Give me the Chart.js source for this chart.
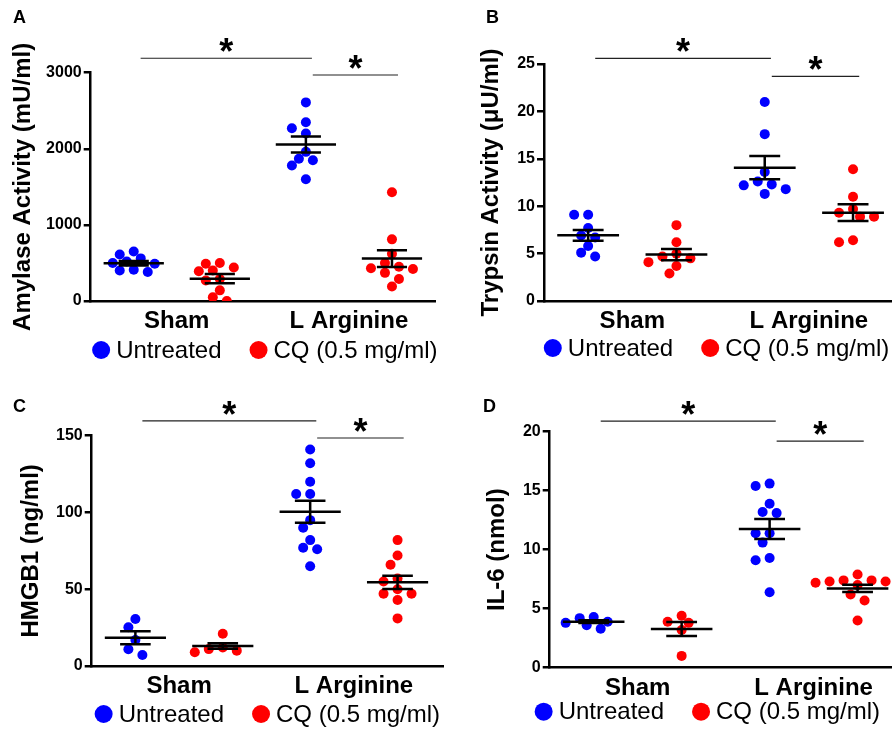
<!DOCTYPE html>
<html>
<head>
<meta charset="utf-8">
<title>Amylase, trypsin, HMGB1 and IL-6</title>
<script src="https://cdn.jsdelivr.net/npm/chart.js@4.4.1/dist/chart.umd.min.js"></script>
<style>
  body { margin: 0; background: #fff; }
  #figure { position: relative; width: 896px; height: 729px; }
  #figure canvas { position: absolute; }
</style>
</head>
<body>
<div id="figure">
  <canvas id="chartA" width="448" height="365" style="left:0;top:0"></canvas>
  <canvas id="chartB" width="448" height="365" style="left:448px;top:0"></canvas>
  <canvas id="chartC" width="448" height="364" style="left:0;top:365px"></canvas>
  <canvas id="chartD" width="448" height="364" style="left:448px;top:365px"></canvas>
</div>
<script>
const groups = ['Sham', 'L Arginine'];
const seriesNames = ['Untreated', 'CQ (0.5 mg/ml)'];
const seriesColors = ['#0000ff', '#ff0000'];
// comparisons marked with *, as [group column, group column]
const sigPairs = [[1, 3], [3, 4]];

// A - amylase (mU/ml), per group: [Sham, L Arginine]
const amylaseUntreated = [[650, 610, 560, 520, 500, 490, 410, 400, 380], [2610, 2350, 2270, 2200, 1960, 1870, 1850, 1780, 1600]];
const amylaseCQ = [[500, 490, 440, 400, 390, 290, 270, 140, 50, 0], [1430, 810, 620, 500, 450, 430, 420, 370, 290, 190]];
const amylaseMean = [497, 294, 2057, 558];   // Sham U, Sham CQ, LA U, LA CQ
const amylaseSem = [30, 60, 105, 110];
const amylaseTicks = [0, 1000, 2000, 3000];
const amylaseSig = [3190, 2970];

// B - trypsin (uU/ml)
const trypsinUntreated = [[9.1, 9.1, 7.7, 6.9, 6.7, 5.8, 5.1, 4.7], [21.0, 17.6, 13.6, 12.6, 12.3, 12.2, 11.8, 11.3]];
const trypsinCQ = [[8.0, 6.2, 5.0, 4.7, 4.5, 4.1, 3.7, 2.9], [13.9, 11.0, 9.7, 9.3, 8.9, 8.9, 6.4, 6.2]];
const trypsinMean = [6.93, 4.9, 14.06, 9.32];
const trypsinSem = [0.57, 0.59, 1.23, 0.88];
const trypsinTicks = [0, 5, 10, 15, 20, 25];
const trypsinSig = [25.6, 23.7];

// C - HMGB1 (ng/ml)
const hmgbUntreated = [[30.6, 25.2, 16.9, 10.9, 7.2], [141, 132, 120, 112, 112, 95, 90, 82, 77, 76, 65]];
const hmgbCQ = [[21, 12, 11, 10, 9], [82, 72, 66, 57, 55, 50, 47, 47, 43, 31]];
const hmgbMean = [18.4, 13.0, 100.5, 54.5];
const hmgbSem = [4.3, 1.8, 7.2, 4.3];
const hmgbTicks = [0, 50, 100, 150];
const hmgbSig = [159.6, 148.5];

// D - IL-6 (nmol)
const il6Untreated = [[4.3, 4.2, 3.9, 3.8, 3.6, 3.3], [15.6, 15.4, 13.9, 13.2, 13.1, 11.4, 11.4, 10.6, 9.3, 9.1, 6.4]];
const il6CQ = [[4.4, 3.9, 3.8, 3.2, 1.0], [7.9, 7.4, 7.4, 7.3, 7.3, 7.2, 7.0, 6.8, 6.2, 5.7, 4.0]];
const il6Mean = [3.9, 3.28, 11.75, 6.72];
const il6Sem = [0.12, 0.59, 0.85, 0.31];
const il6Ticks = [0, 5, 10, 15, 20];
const il6Sig = [20.9, 19.2];

const panels = [
  { id: 'chartA', letter: 'A', yTitle: 'Amylase Activity (mU/ml)',
    untreated: amylaseUntreated, cq: amylaseCQ, mean: amylaseMean, sem: amylaseSem, ticks: amylaseTicks, sig: amylaseSig,
    padL: 13, padR: 13, titleTop: 7.2, titleBottom: 43.9, yW: 77.7, yTitlePad: -4.4, xH: 64, xMax: 4.5, legendDx: 2, legendDy: 49 },
  { id: 'chartB', letter: 'B', yTitle: 'Trypsin Activity (μU/ml)',
    untreated: trypsinUntreated, cq: trypsinCQ, mean: trypsinMean, sem: trypsinSem, ticks: trypsinTicks, sig: trypsinSig,
    padL: 38, padR: 1, titleTop: 7.2, titleBottom: 35.2, yW: 58, yTitlePad: -9.4, xH: 64, xMax: 4.43, legendDx: -1, legendDy: 47 },
  { id: 'chartC', letter: 'C', yTitle: 'HMGB1 (ng/ml)',
    untreated: hmgbUntreated, cq: hmgbCQ, mean: hmgbMean, sem: hmgbSem, ticks: hmgbTicks, sig: hmgbSig,
    padL: 13, padR: 5, titleTop: 30.9, titleBottom: 18.2, yW: 78.7, yTitlePad: 3.6, xH: 63, xMax: 4.52, legendDx: 0, legendDy: 48 },
  { id: 'chartD', letter: 'D', yTitle: 'IL-6 (nmol)',
    untreated: il6Untreated, cq: il6CQ, mean: il6Mean, sem: il6Sem, ticks: il6Ticks, sig: il6Sig,
    padL: 35, padR: 0, titleTop: 30.9, titleBottom: 14.2, yW: 66.7, yTitlePad: -0.4, xH: 61.3, xMax: 4.38, legendDx: -13, legendDy: 44 }
];
const panelById = {};
panels.forEach(p => { panelById[p.id] = p; });

const FONT = '"Liberation Sans", Arial, Helvetica, sans-serif';
Chart.defaults.font.family = FONT;
Chart.defaults.color = '#000';

// column scatter + mean/SEM + significance bars + legend
const dotPlot = {
  id: 'dotPlot',
  afterDatasetsUpdate(chart) {
    // nudge points sideways so they don't sit on top of each other
    const placed = {};
    chart.data.datasets.forEach((ds, i) => {
      chart.getDatasetMeta(i).data.forEach((pt, j) => {
        const key = ds.data[j].x;
        const others = placed[key] || (placed[key] = []);
        const base = pt.x;
        for (let k = 0; k < 30; k++) {
          const dx = (k % 2 ? -1 : 1) * Math.ceil(k / 2) * 7;
          if (others.every(o => Math.hypot(o.x - base - dx, o.y - pt.y) >= 9.5)) {
            pt.x = base + dx;
            break;
          }
        }
        others.push({x: pt.x, y: pt.y});
      });
    });
  },
  afterDatasetsDraw(chart) {
    const p = panelById[chart.canvas.id];
    const {ctx} = chart;
    const xs = chart.scales.x, ys = chart.scales.y;
    ctx.save();
    ctx.strokeStyle = '#000';
    ctx.lineWidth = 2.5;
    p.mean.forEach((m, i) => {
      const cx = xs.getPixelForValue(i + 1);
      const half = xs.getPixelForValue(i + 1.35) - cx;
      const ym = ys.getPixelForValue(m);
      const yHi = ys.getPixelForValue(m + p.sem[i]);
      const yLo = ys.getPixelForValue(m - p.sem[i]);
      ctx.beginPath();
      ctx.moveTo(cx - half, ym); ctx.lineTo(cx + half, ym);
      ctx.moveTo(cx - half / 2, yHi); ctx.lineTo(cx + half / 2, yHi);
      ctx.moveTo(cx - half / 2, yLo); ctx.lineTo(cx + half / 2, yLo);
      ctx.moveTo(cx, yHi); ctx.lineTo(cx, yLo);
      ctx.stroke();
    });

    ctx.lineWidth = 1.2;
    ctx.strokeStyle = '#222';
    ctx.fillStyle = '#000';
    ctx.font = 'bold 36px ' + FONT;
    ctx.textAlign = 'center';
    ctx.textBaseline = 'alphabetic';
    sigPairs.forEach(([a, b], i) => {
      const x1 = xs.getPixelForValue(a + 0.08);
      const x2 = xs.getPixelForValue(b + 0.07);
      const ly = ys.getPixelForValue(p.sig[i]);
      ctx.beginPath();
      ctx.moveTo(x1, ly); ctx.lineTo(x2, ly);
      ctx.stroke();
      ctx.fillText('*', (x1 + x2) / 2, ly + 6);
    });
    ctx.restore();
  },
  afterDraw(chart) {
    const p = panelById[chart.canvas.id];
    const {ctx, chartArea} = chart;
    const items = chart.data.datasets;
    ctx.save();
    ctx.font = '24px ' + FONT;
    ctx.textAlign = 'left';
    ctx.textBaseline = 'middle';
    const widths = items.map(ds => 18 + 6 + ctx.measureText(ds.label).width);
    const total = widths.reduce((s, w) => s + w, 0) + 28 * (items.length - 1);
    let lx = (chartArea.left + chartArea.right) / 2 - total / 2 + p.legendDx;
    const ly = chartArea.bottom + p.legendDy;
    items.forEach((ds, i) => {
      ctx.fillStyle = ds.backgroundColor;
      ctx.beginPath();
      ctx.arc(lx + 9, ly, 9, 0, Math.PI * 2);
      ctx.fill();
      ctx.fillStyle = '#000';
      ctx.fillText(ds.label, lx + 24, ly + 1);
      lx += widths[i] + 28;
    });
    ctx.restore();
  }
};

function makePanel(p) {
  const toPoints = (sets, series) => sets.flatMap((vals, g) => vals.map(v => ({x: 2 * g + series + 1, y: v})));
  const datasets = [p.untreated, p.cq].map((sets, s) => ({
    label: seriesNames[s],
    data: toPoints(sets, s),
    backgroundColor: seriesColors[s],
    borderWidth: 0,
    pointRadius: 5,
    pointHoverRadius: 5
  }));

  return new Chart(document.getElementById(p.id), {
    type: 'scatter',
    data: { datasets },
    options: {
      responsive: false,
      animation: false,
      events: [],
      layout: { padding: { left: p.padL, right: p.padR, top: 0, bottom: 0 } },
      scales: {
        x: {
          type: 'linear',
          min: 0.5,
          max: p.xMax,
          grid: { display: false, drawTicks: false },
          border: { color: '#000', width: 2.5 },
          afterBuildTicks: axis => { axis.ticks = groups.map((g, i) => ({value: 2 * i + 1.5})); },
          afterFit: axis => { axis.height = p.xH; },
          ticks: {
            autoSkip: false,
            maxRotation: 0,
            padding: 6,
            font: { size: 24, weight: 'bold' },
            callback: v => groups[Math.round((v - 1.5) / 2)]
          }
        },
        y: {
          min: 0,
          max: p.ticks[p.ticks.length - 1],
          grid: { drawOnChartArea: false, color: '#000', lineWidth: 2.5, tickLength: 7 },
          border: { color: '#000', width: 2.5 },
          afterBuildTicks: axis => { axis.ticks = p.ticks.map(v => ({value: v})); },
          afterFit: axis => { axis.width = p.yW; },
          ticks: { padding: 2, font: { size: 16, weight: 'bold' }, callback: v => String(v) },
          title: {
            display: true,
            text: p.yTitle,
            font: { size: 24, weight: 'bold' },
            padding: { top: p.yTitlePad, bottom: 0 }
          }
        }
      },
      plugins: {
        legend: { display: false },
        tooltip: { enabled: false },
        title: {
          display: true,
          text: p.letter,
          align: 'start',
          font: { size: 18, weight: 'bold' },
          padding: { top: p.titleTop, bottom: p.titleBottom }
        }
      }
    },
    plugins: [dotPlot]
  });
}

panels.forEach(makePanel);
</script>
</body>
</html>
